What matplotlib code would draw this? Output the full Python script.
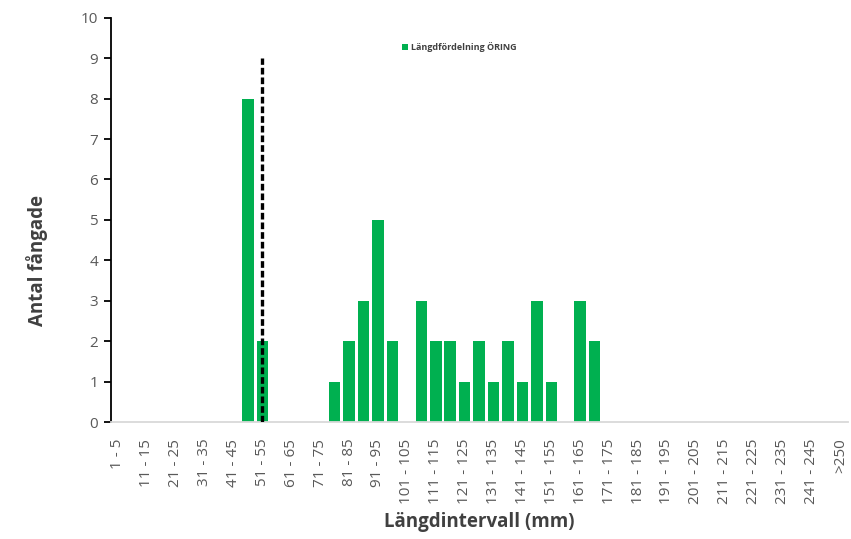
import matplotlib
matplotlib.use('Agg')
import matplotlib.pyplot as plt
import numpy as np

plt.rcParams['font.family'] = ['Open Sans', 'DejaVu Sans']

# length classes: 1-5, 6-10, ..., 246-250, >250
lowEdges = list(range(1, 250, 5))
categories = ['%d - %d' % (lo, lo + 4) for lo in lowEdges] + ['>250']

# catch per class (trout)
counts = [0] * len(categories)
catchByClass = {
    '46 - 50': 8, '51 - 55': 2,
    '76 - 80': 1, '81 - 85': 2, '86 - 90': 3, '91 - 95': 5, '96 - 100': 2,
    '106 - 110': 3, '111 - 115': 2, '116 - 120': 2, '121 - 125': 1,
    '126 - 130': 2, '131 - 135': 1, '136 - 140': 2, '141 - 145': 1,
    '146 - 150': 3, '151 - 155': 1, '161 - 165': 3, '166 - 170': 2,
}
for kk, vv in catchByClass.items():
    counts[categories.index(kk)] = vv

markerClass = '51 - 55'
markerTop = 9

fig = plt.figure(figsize=(8.51, 5.39), dpi=100)
ax = fig.add_axes([0.130, 0.217, 0.866, 0.750])

xx = np.arange(len(categories))
ax.bar(xx, counts, width=0.8, color='#00b050', label='Längdfördelning ÖRING', zorder=2)

xm = categories.index(markerClass)
ax.plot([xm, xm], [0, markerTop], color='black', lw=2.4, ls=(0, (2.0, 0.9)), zorder=3)

ax.set_xlim(-0.5, len(categories) - 0.5)
ax.set_ylim(0, 10)
ax.set_yticks(range(0, 11))
ax.set_xticks(xx[::2])
ax.set_xticklabels(categories[::2], rotation=90, va='top', ha='center')

for side in ['top', 'right']:
    ax.spines[side].set_visible(False)
ax.spines['left'].set_color('black')
ax.spines['left'].set_linewidth(1.3)
ax.spines['bottom'].set_color('#d9d9d9')
ax.spines['bottom'].set_linewidth(1.3)
ax.tick_params(axis='y', direction='out', length=5, width=1.3, colors='black',
               labelcolor='#595959', labelsize=11, pad=4)
ax.tick_params(axis='x', length=0, labelcolor='#595959', labelsize=11, pad=12)

ax.set_ylabel('Antal fångade', fontsize=13.5, fontweight='bold', color='#404040')
ax.yaxis.set_label_coords(-0.085, 0.40)
ax.set_xlabel('Längdintervall (mm)', fontsize=13.5, fontweight='bold', color='#404040', labelpad=6)

leg = ax.legend(loc='upper center', bbox_to_anchor=(0.473, 0.96), frameon=False,
                prop={'size': 6.5, 'weight': 'bold'}, handlelength=0.7, handleheight=0.7,
                handletextpad=0.3)
for t in leg.get_texts():
    t.set_color('#404040')

fig.savefig('out.png', dpi=100)
